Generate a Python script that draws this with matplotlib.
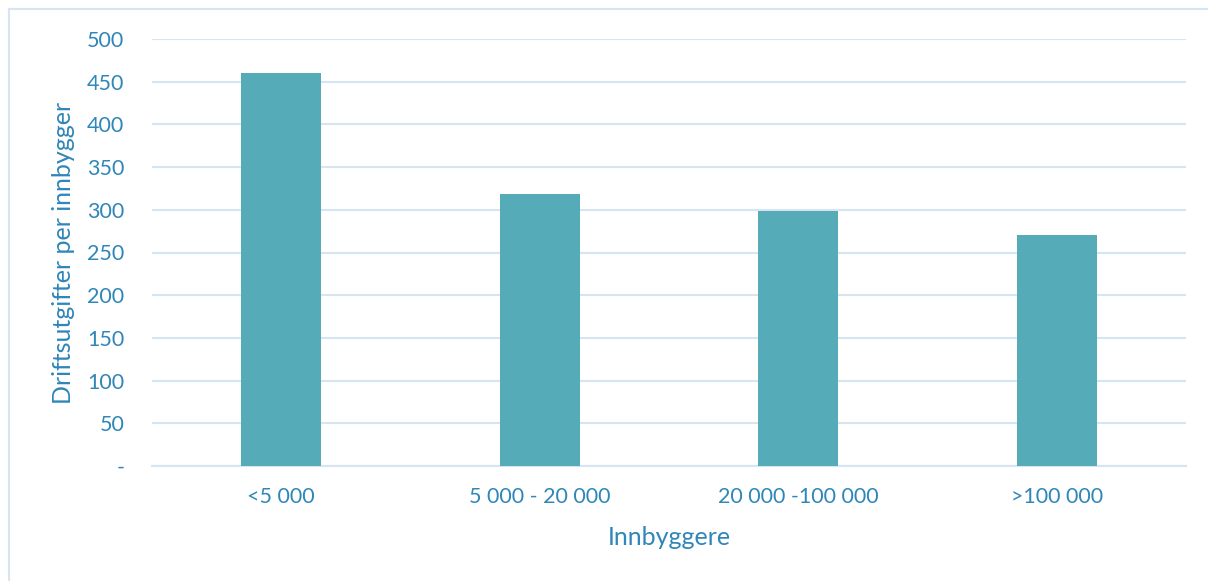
import matplotlib
matplotlib.use("Agg")
import matplotlib.pyplot as plt
import numpy as np

categories = ["<5 000", "5 000 - 20 000", "20 000 -100 000", ">100 000"]
values = [460, 318, 299, 271]
yticks = [0, 50, 100, 150, 200, 250, 300, 350, 400, 450, 500]
ytick_labels = ["-"] + [str(v) for v in yticks[1:]]

text_color = "#2f86b8"
bar_color = "#55abb7"
grid_color = "#d5e5f1"

plt.rcParams["font.family"] = ["Lato", "DejaVu Sans"]

fig = plt.figure(figsize=(12.08, 5.81), dpi=100)
ax = fig.add_axes([152 / 1208, 1 - 466 / 581, 1034 / 1208, 427 / 581])

x = np.arange(len(categories))
ax.bar(x, values, width=0.31, color=bar_color, zorder=3)

ax.set_xlim(-0.5, len(categories) - 0.5)
ax.set_ylim(0, 500)
ax.set_yticks(yticks, ytick_labels)
ax.set_xticks(x, categories)
ax.tick_params(axis="both", length=0, colors=text_color, labelsize=15.5)
ax.tick_params(axis="y", pad=20)
ax.tick_params(axis="x", pad=15)
ax.grid(axis="y", color=grid_color, linewidth=1.5, zorder=0)
for side in ["top", "right", "left"]:
    ax.spines[side].set_visible(False)
ax.spines["bottom"].set_color(grid_color)
ax.spines["bottom"].set_linewidth(1.5)

ax.set_ylabel("Driftsutgifter per innbygger", color=text_color, fontsize=18)
ax.yaxis.set_label_coords(-77 / 1034, 0.5)
ax.set_xlabel("Innbyggere", color=text_color, fontsize=18, labelpad=14)

# light frame around the chart area
fig.add_artist(plt.Line2D([9 / 1208, 9 / 1208], [0, 1 - 9 / 581],
                          transform=fig.transFigure, color=grid_color, linewidth=1.5))
fig.add_artist(plt.Line2D([9 / 1208, 1], [1 - 9 / 581, 1 - 9 / 581],
                          transform=fig.transFigure, color=grid_color, linewidth=1.5))

fig.savefig("out.png", dpi=100)
